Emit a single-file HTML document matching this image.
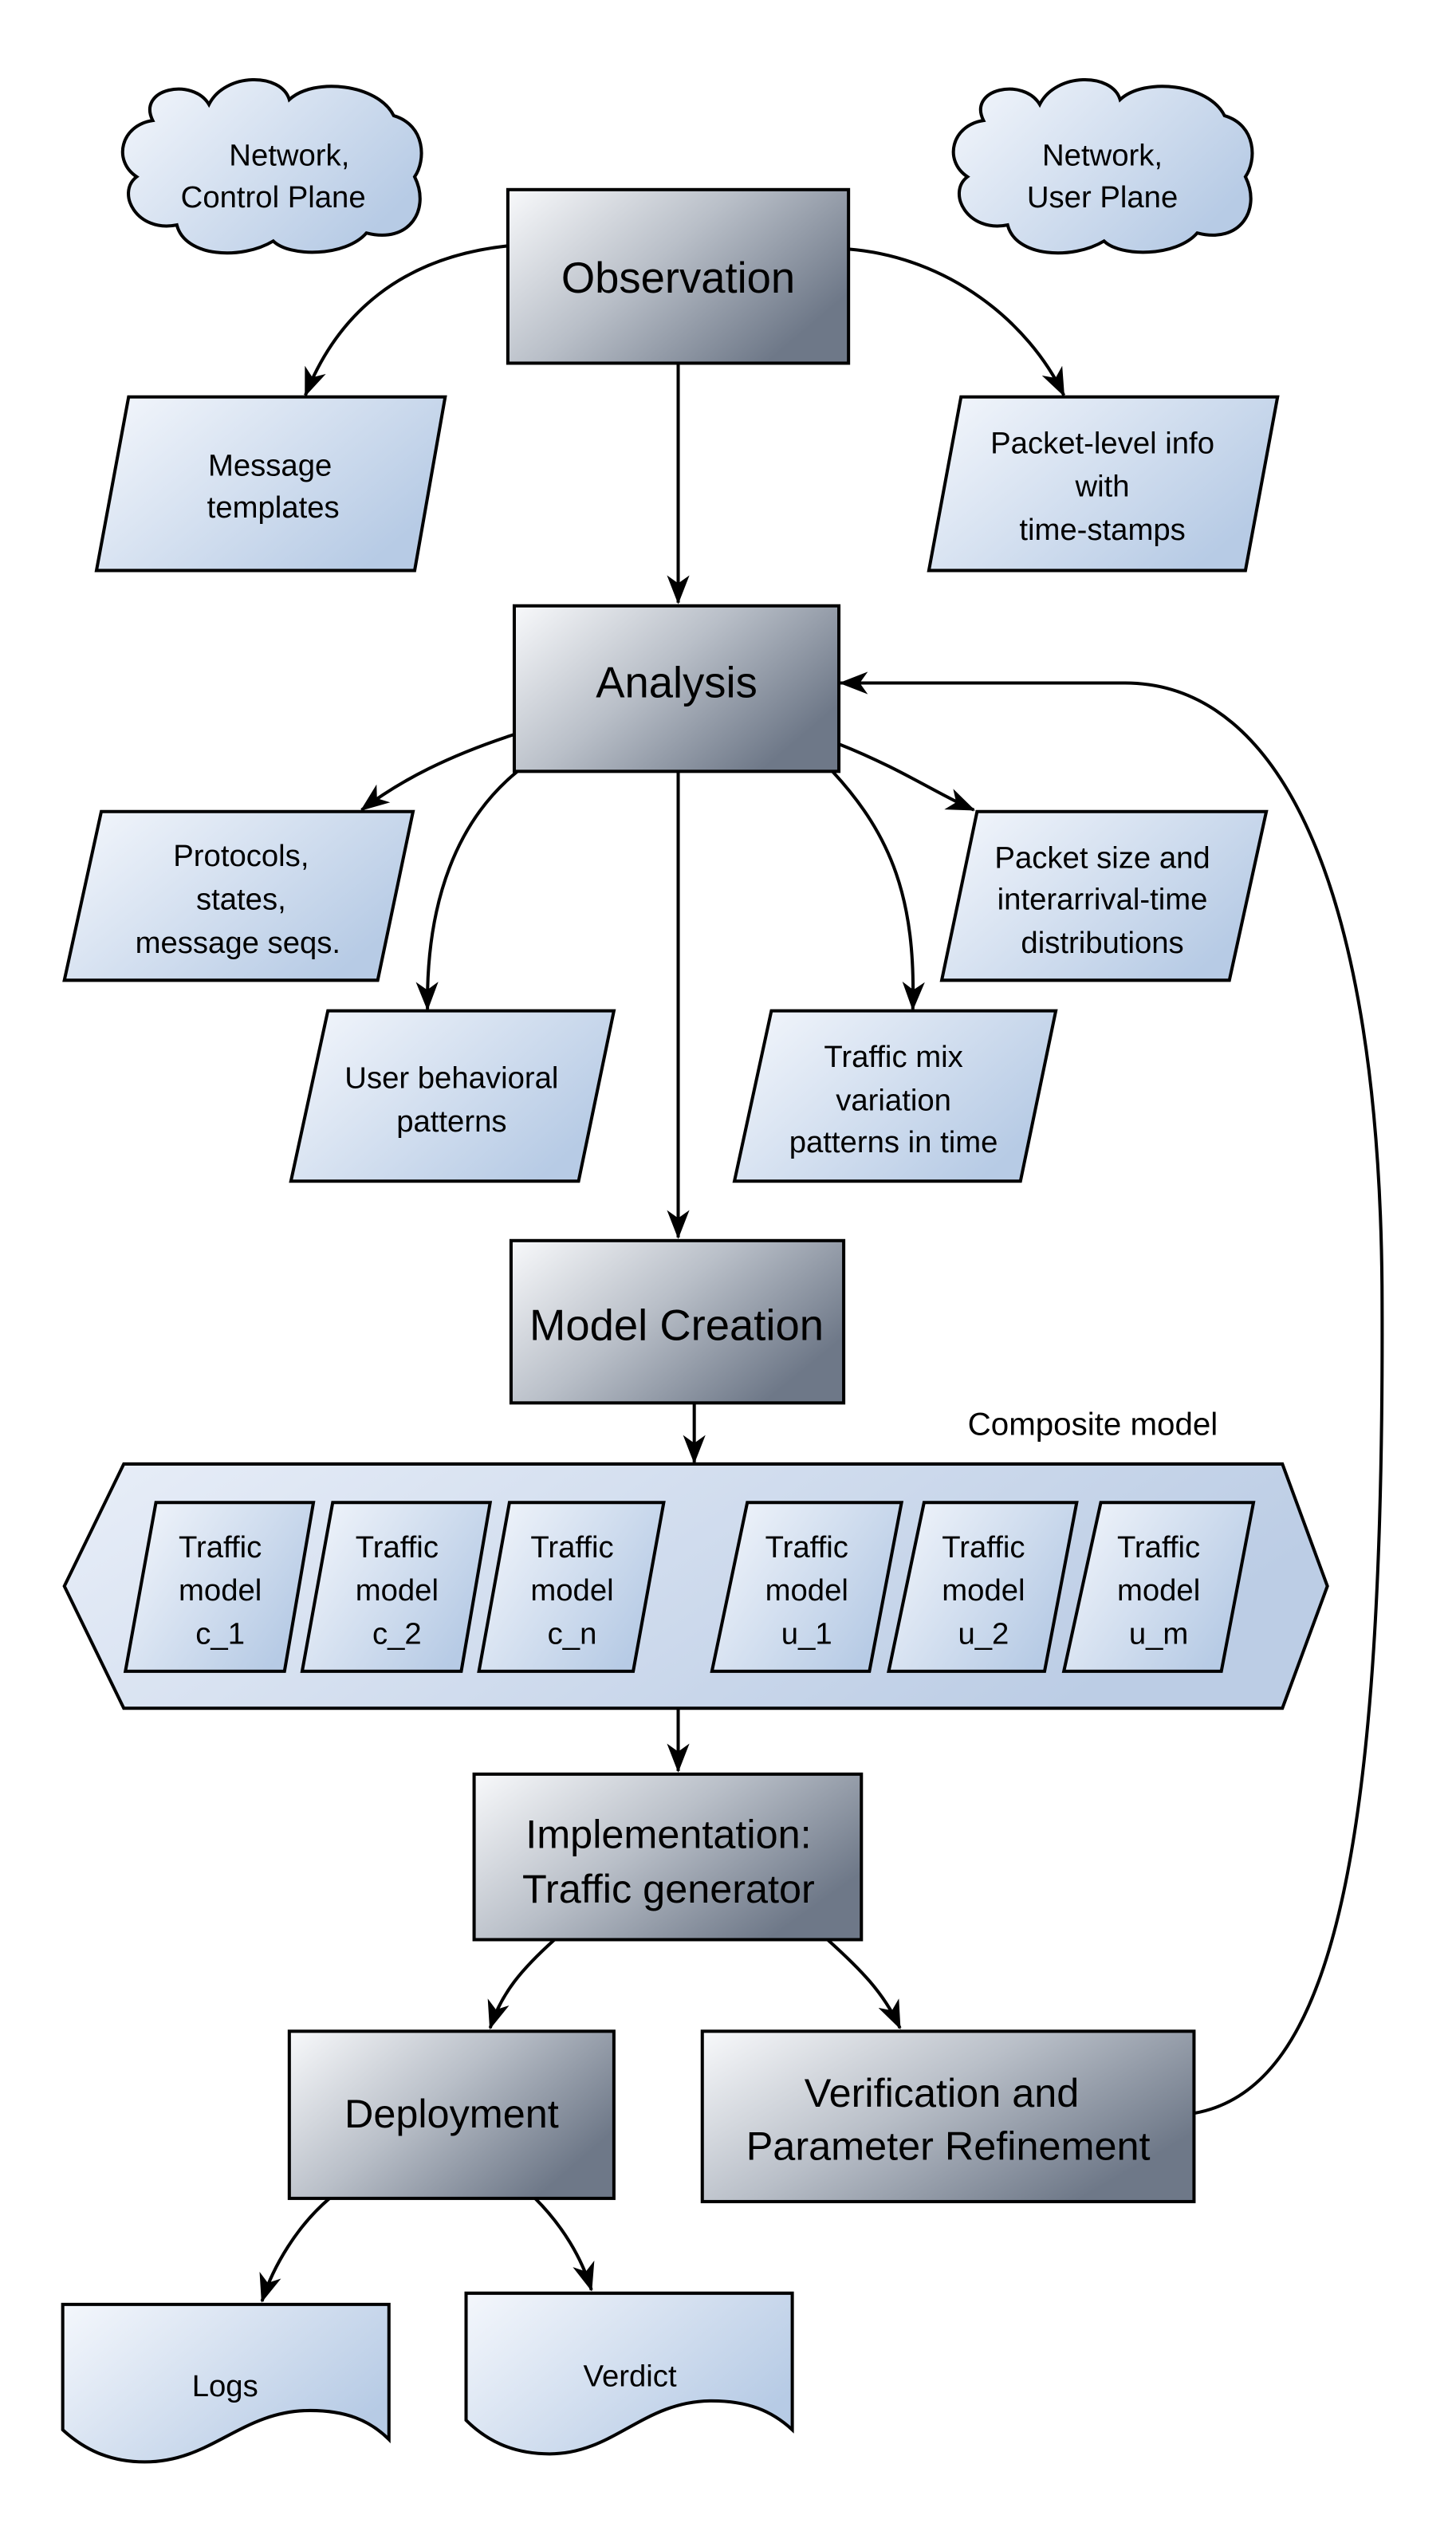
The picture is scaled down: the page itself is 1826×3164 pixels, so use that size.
<!DOCTYPE html>
<html><head><meta charset="utf-8"><style>
html,body{margin:0;padding:0;background:#fff;}
svg{display:block;}
text{font-family:"Liberation Sans",Arial,sans-serif;fill:#000;text-anchor:middle;}
</style></head><body>
<svg width="1826" height="3164" viewBox="0 0 906 1570" xmlns="http://www.w3.org/2000/svg">
<defs>
<linearGradient id="g" x1="0" y1="0" x2="1" y2="0.6">
<stop offset="0" stop-color="#f8f9fb"/><stop offset="0.5" stop-color="#b9bfc8"/><stop offset="1" stop-color="#6e7888"/></linearGradient>
<linearGradient id="b" x1="0" y1="0" x2="1" y2="0.6">
<stop offset="0" stop-color="#f4f7fc"/><stop offset="1" stop-color="#b7cbe5"/></linearGradient>
<linearGradient id="h" x1="0" y1="0" x2="1" y2="0.3">
<stop offset="0" stop-color="#e8eef8"/><stop offset="1" stop-color="#bccde5"/></linearGradient>
<marker id="a" markerWidth="18" markerHeight="14" refX="17" refY="7" orient="auto" markerUnits="userSpaceOnUse" viewBox="0 0 18 14">
<path d="M0,0 L18,7 L0,14 L5,7 Z" fill="#000"/></marker>
</defs>
<g stroke="#000" stroke-width="2">
<!-- clouds -->
<path d="M95,75 C85,55 120,48 130,65 C140,45 175,45 180,62 C195,48 235,52 245,72 C265,78 265,100 258,110 C268,130 255,152 228,145 C215,160 180,160 170,150 C150,162 115,160 110,140 C85,145 72,120 85,110 C70,100 75,78 95,75 Z" fill="url(#b)"/>
<path d="M612,75 C602,55 637,48 647,65 C657,45 692,45 697,62 C712,48 752,52 762,72 C782,78 782,100 775,110 C785,130 772,152 745,145 C732,160 697,160 687,150 C667,162 632,160 627,140 C602,145 589,120 602,110 C587,100 592,78 612,75 Z" fill="url(#b)"/>
<!-- process boxes -->
<rect x="316" y="118" width="212" height="108" fill="url(#g)"/>
<rect x="320" y="377" width="202" height="103" fill="url(#g)"/>
<rect x="318" y="772" width="207" height="101" fill="url(#g)"/>
<rect x="295" y="1104" width="241" height="103" fill="url(#g)"/>
<rect x="180" y="1264" width="202" height="104" fill="url(#g)"/>
<rect x="437" y="1264" width="306" height="106" fill="url(#g)"/>
<!-- data parallelograms -->
<path d="M80,247 L277,247 L258,355 L60,355 Z" fill="url(#b)"/>
<path d="M598,247 L795,247 L775,355 L578,355 Z" fill="url(#b)"/>
<path d="M63,505 L257,505 L235,610 L40,610 Z" fill="url(#b)"/>
<path d="M204,629 L382,629 L360,735 L181,735 Z" fill="url(#b)"/>
<path d="M480,629 L657,629 L635,735 L457,735 Z" fill="url(#b)"/>
<path d="M608,505 L788,505 L765,610 L586,610 Z" fill="url(#b)"/>
<!-- hexagon -->
<path d="M77,911 L798,911 L826,987 L798,1063 L77,1063 L40,987 Z" fill="url(#h)"/>
<path d="M97,935 L195,935 L177,1040 L78,1040 Z" fill="url(#b)"/>
<path d="M207,935 L305,935 L287,1040 L188,1040 Z" fill="url(#b)"/>
<path d="M317,935 L413,935 L394,1040 L298,1040 Z" fill="url(#b)"/>
<path d="M465,935 L561,935 L541,1040 L443,1040 Z" fill="url(#b)"/>
<path d="M575,935 L670,935 L650,1040 L553,1040 Z" fill="url(#b)"/>
<path d="M685,935 L780,935 L760,1040 L662,1040 Z" fill="url(#b)"/>
<!-- documents -->
<path d="M39,1434 L242,1434 L242,1518 C230,1506 215,1500 193,1500 C150,1500 132,1532 90,1532 C68,1532 52,1524 39,1512 Z" fill="url(#b)"/>
<path d="M290,1427 L493,1427 L493,1512 C480,1500 465,1494 443,1494 C400,1494 382,1527 342,1527 C318,1527 302,1518 290,1506 Z" fill="url(#b)"/>
</g>
<!-- connectors -->
<g stroke="#000" stroke-width="2" fill="none" marker-end="url(#a)">
<path d="M316,153 C250,160 210,195 190,246"/>
<path d="M528,155 C590,160 640,200 662,246"/>
<path d="M422,226 L422,375"/>
<path d="M320,457 C280,470 250,485 225,504"/>
<path d="M322,480 C285,510 265,560 266,628"/>
<path d="M422,480 L422,770"/>
<path d="M518,480 C555,520 570,560 568,628"/>
<path d="M522,463 C560,478 585,495 606,504"/>
<path d="M432,873 L432,910"/>
<path d="M422,1063 L422,1102"/>
<path d="M345,1207 C325,1225 312,1240 305,1262"/>
<path d="M515,1207 C535,1225 550,1240 560,1262"/>
<path d="M205,1368 C185,1385 170,1410 163,1432"/>
<path d="M333,1368 C350,1385 362,1405 368,1425"/>
<path d="M743,1315 C830,1300 862,1150 860,800 C858,560 800,425 700,425 L523,425"/>
</g>
<!-- text -->
<g font-size="19">
<text x="180" y="103">Network,</text><text x="170" y="129">Control Plane</text>
<text x="686" y="103">Network,</text><text x="686" y="129">User Plane</text>
<text x="168" y="296">Message</text><text x="170" y="322">templates</text>
<text x="686" y="282">Packet-level info</text><text x="686" y="309">with</text><text x="686" y="336">time-stamps</text>
<text x="150" y="539">Protocols,</text><text x="150" y="566">states,</text><text x="148" y="593">message seqs.</text>
<text x="281" y="677">User behavioral</text><text x="281" y="704">patterns</text>
<text x="556" y="664">Traffic mix</text><text x="556" y="691">variation</text><text x="556" y="717">patterns in time</text>
<text x="686" y="540">Packet size and</text><text x="686" y="566">interarrival-time</text><text x="686" y="593">distributions</text>
<text x="680" y="893" font-size="20">Composite model</text>
<g>
<text x="137" y="969">Traffic</text><text x="137" y="996">model</text><text x="137" y="1023">c_1</text>
<text x="247" y="969">Traffic</text><text x="247" y="996">model</text><text x="247" y="1023">c_2</text>
<text x="356" y="969">Traffic</text><text x="356" y="996">model</text><text x="356" y="1023">c_n</text>
<text x="502" y="969">Traffic</text><text x="502" y="996">model</text><text x="502" y="1023">u_1</text>
<text x="612" y="969">Traffic</text><text x="612" y="996">model</text><text x="612" y="1023">u_2</text>
<text x="721" y="969">Traffic</text><text x="721" y="996">model</text><text x="721" y="1023">u_m</text>
</g>
<text x="140" y="1491">Logs</text>
<text x="392" y="1485">Verdict</text>
</g>
<g font-size="27">
<text x="422" y="182">Observation</text>
<text x="421" y="434">Analysis</text>
<text x="421" y="834">Model Creation</text>
<text x="416" y="1150" font-size="25">Implementation:</text>
<text x="416" y="1184" font-size="25">Traffic generator</text>
<text x="281" y="1324" font-size="25">Deployment</text>
<text x="586" y="1311" font-size="25">Verification and</text>
<text x="590" y="1344" font-size="25">Parameter Refinement</text>
</g>
</svg>
</body></html>
